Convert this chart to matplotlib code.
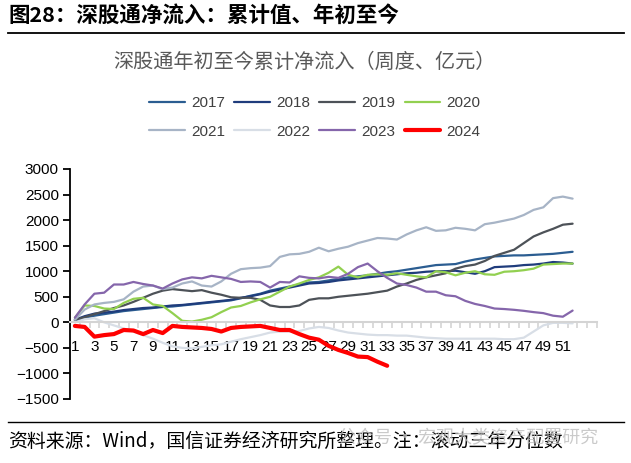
import numpy as np
import matplotlib.pyplot as plt
from matplotlib.lines import Line2D

plt.rcParams['font.family'] = ['Liberation Sans', 'Noto Sans CJK SC', 'DejaVu Sans']
plt.rcParams['axes.unicode_minus'] = True

# 周度累计净流入（亿元），读图估计
weeks = np.arange(1, 53)
y2017 = [30, 90, 130, 160, 190, 220, 240, 260, 280, 300, 310, 330, 350, 370, 390, 410, 430, 470, 520, 560,
         620, 660, 700, 740, 780, 790, 820, 850, 880, 900, 920, 950, 980, 1000, 1030, 1060, 1090, 1120, 1130, 1140,
         1190, 1230, 1260, 1290, 1300, 1310, 1310, 1320, 1330, 1340, 1360, 1380]
y2018 = [50, 120, 170, 190, 210, 240, 260, 280, 290, 310, 330, 340, 360, 380, 400, 420, 440, 480, 510, 550,
         600, 640, 680, 720, 760, 770, 790, 820, 840, 860, 880, 900, 920, 940, 960, 970, 990, 1000, 1000, 1010,
         980, 950, 1000, 1080, 1090, 1100, 1120, 1130, 1150, 1180, 1170, 1150]
y2019 = [50, 100, 160, 220, 280, 330, 400, 480, 560, 620, 650, 630, 610, 630, 580, 540, 490, 480, 480, 440,
         330, 300, 300, 330, 440, 470, 470, 500, 520, 540, 560, 590, 620, 700, 760, 830, 880, 920, 960, 1050,
         1100, 1130, 1200, 1300, 1360, 1420, 1550, 1680, 1760, 1830, 1910, 1930]
y2020 = [90, 330, 320, 270, 260, 380, 460, 480, 350, 320, 180, 30, 15, 50, 100, 200, 290, 320, 390, 450,
         500, 600, 700, 760, 830, 880, 970, 1090, 930, 880, 930, 940, 930, 960, 930, 900, 880, 1000, 980, 920,
         970, 1000, 940, 930, 990, 1000, 1020, 1050, 1130, 1140, 1150, 1150]
y2021 = [50, 250, 350, 380, 400, 450, 600, 700, 720, 650, 680, 760, 800, 720, 700, 800, 950, 1040, 1060, 1070,
         1100, 1280, 1330, 1340, 1380, 1460, 1390, 1440, 1480, 1550, 1600, 1650, 1640, 1620, 1720, 1800, 1860, 1790,
         1800, 1850, 1830, 1800, 1920, 1950, 1990, 2030, 2100, 2200, 2250, 2430, 2460, 2420]
y2022 = [0, 60, 80, 0, -60, -120, -180, -250, -320, -400, -470, -500, -510, -480, -450, -430, -380, -330, -290, -250,
         -200, -180, -180, -170, -120, -90, -110, -160, -200, -220, -240, -250, -250, -260, -260, -280, -300, -310,
         -320, -320, -320, -320, -320, -320, -330, -330, -300, -180, -60, -10, -10, -20]
y2023 = [90, 350, 560, 580, 740, 740, 790, 750, 720, 660, 760, 840, 880, 860, 910, 880, 850, 790, 800, 790,
         680, 790, 780, 900, 870, 860, 890, 870, 950, 1080, 1150, 1000, 870, 760, 730, 680, 600, 600, 530, 510,
         420, 360, 320, 270, 260, 245, 225, 200, 180, 130, 110, 230]
y2024 = [-70, -90, -280, -250, -230, -150, -160, -230, -150, -210, -70, -90, -100, -110, -130, -180, -110, -90,
         -80, -70, -110, -150, -150, -230, -300, -340, -460, -540, -600, -670, -680, -770, -850]

years = ['2017', '2018', '2019', '2020', '2021', '2022', '2023', '2024']
series = [y2017, y2018, y2019, y2020, y2021, y2022, y2023, y2024]
colors = ['#2b5d91', '#1f3c7c', '#4d5258', '#92d050', '#a7b4c6', '#d8dee6', '#8566ab', '#ff0000']
widths = [1.6, 1.6, 1.6, 1.6, 1.6, 1.6, 1.6, 3.0]

fig = plt.figure(figsize=(6.31, 4.63), dpi=100)
ax = fig.add_axes([70 / 631, 1 - 399 / 463, 527 / 631, 230 / 463])

lines = []
for yr, s, c, w in zip(years, series, colors, widths):
    ln, = ax.plot(weeks[:len(s)], s, color=c, lw=w, label=yr, solid_capstyle='round')
    lines.append(ln)

ax.set_xlim(0.5, 54.5)
ax.set_ylim(-1500, 3000)
ax.set_yticks(np.arange(-1500, 3001, 500))
ax.set_xticks(np.arange(1, 52, 2))
ax.set_xticks(np.arange(0.5, 55, 1), minor=True)

for sp in ['top', 'right']:
    ax.spines[sp].set_visible(False)
ax.spines['left'].set_linewidth(1.3)
ax.spines['bottom'].set_position(('data', 0))
ax.spines['bottom'].set_color('#d4d4d4')
ax.spines['bottom'].set_linewidth(1.5)

ax.tick_params(axis='y', length=5, width=1.3, labelsize=11, pad=3, colors='black')
ax.tick_params(axis='x', which='major', length=0, labelsize=11, pad=12.5)
ax.tick_params(axis='x', which='minor', length=4, width=1.2, color='#d4d4d4')

# 图例：两行四列（按列填充，所以重新排序）
order = [0, 4, 1, 5, 2, 6, 3, 7]
fig.legend([lines[i] for i in order], [years[i] for i in order], ncol=4, loc='upper left',
           bbox_to_anchor=(149 / 631, 1 - 96 / 463), frameon=False, fontsize=11,
           handlelength=2.35, handletextpad=0.4, columnspacing=0.6, labelspacing=0.95,
           borderpad=0, borderaxespad=0, labelcolor='#404040')

cjk = ['Noto Sans CJK SC', 'DejaVu Sans']
fig.text(8 / 631, 1 - 15 / 463, '图28：深股通净流入：累计值、年初至今', fontsize=15.5,
         va='center', ha='left', family=cjk, weight='bold')
fig.add_artist(Line2D([8 / 631, 624 / 631], [1 - 33 / 463] * 2, color='black', lw=1.3))
fig.text(304 / 631, 1 - 62 / 463, '深股通年初至今累计净流入（周度、亿元）', fontsize=14.5,
         va='center', ha='center', family=cjk, color='#595959')
fig.add_artist(Line2D([8 / 631, 624 / 631], [1 - 422 / 463] * 2, color='black', lw=1.0))
fig.text(8 / 631, 1 - 441 / 463, '资料来源：Wind，国信证券经济研究所整理。注：滚动三年分位数', fontsize=13.6,
         va='center', ha='left', family=cjk)
# 水印（原图中与脚注重叠）
fig.text(338 / 631, 1 - 437 / 463, '公众号 · 宏观大类资产配置研究', fontsize=13,
         va='center', ha='left', family=cjk, color='#bdbdbd', alpha=0.8)

fig.savefig('out.png', dpi=100)
